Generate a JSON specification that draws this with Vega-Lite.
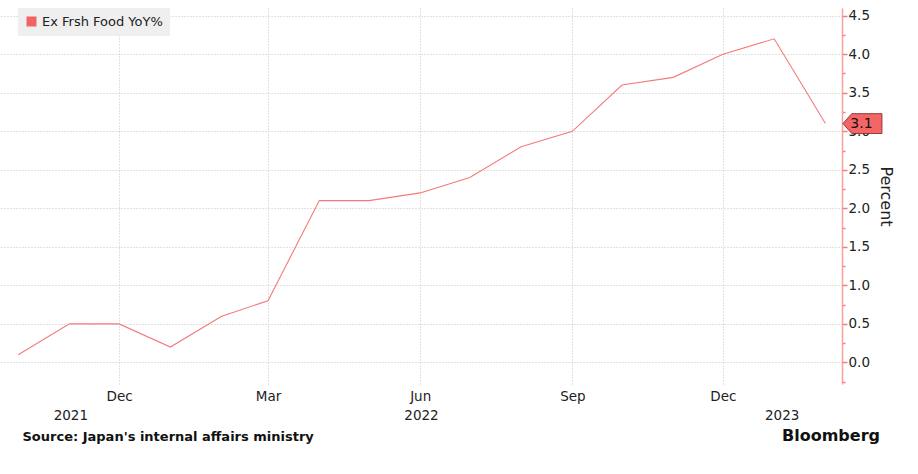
{
  "$schema": "https://vega.github.io/schema/vega-lite/v6.json",
  "width": 842,
  "height": 376,
  "autosize": {"type": "none"},
  "padding": {"left": 0, "top": 8, "right": 76, "bottom": 90},
  "background": "white",
  "config": {"view": {"stroke": null}, "font": "DejaVu Sans"},
  "title": {
    "text": "Bloomberg",
    "orient": "bottom",
    "anchor": "end",
    "frame": "group",
    "font": "DejaVu Sans",
    "fontSize": 16,
    "fontWeight": "bold",
    "color": "#111",
    "dx": 38,
    "dy": -19
  },
  "data": {
    "values": [
      {"date": "2021-10-01", "value": 0.1, "series": "Ex Frsh Food YoY%"},
      {"date": "2021-11-01", "value": 0.5, "series": "Ex Frsh Food YoY%"},
      {"date": "2021-12-01", "value": 0.5, "series": "Ex Frsh Food YoY%"},
      {"date": "2022-01-01", "value": 0.2, "series": "Ex Frsh Food YoY%"},
      {"date": "2022-02-01", "value": 0.6, "series": "Ex Frsh Food YoY%"},
      {"date": "2022-03-01", "value": 0.8, "series": "Ex Frsh Food YoY%"},
      {"date": "2022-04-01", "value": 2.1, "series": "Ex Frsh Food YoY%"},
      {"date": "2022-05-01", "value": 2.1, "series": "Ex Frsh Food YoY%"},
      {"date": "2022-06-01", "value": 2.2, "series": "Ex Frsh Food YoY%"},
      {"date": "2022-07-01", "value": 2.4, "series": "Ex Frsh Food YoY%"},
      {"date": "2022-08-01", "value": 2.8, "series": "Ex Frsh Food YoY%"},
      {"date": "2022-09-01", "value": 3.0, "series": "Ex Frsh Food YoY%"},
      {"date": "2022-10-01", "value": 3.6, "series": "Ex Frsh Food YoY%"},
      {"date": "2022-11-01", "value": 3.7, "series": "Ex Frsh Food YoY%"},
      {"date": "2022-12-01", "value": 4.0, "series": "Ex Frsh Food YoY%"},
      {"date": "2023-01-01", "value": 4.2, "series": "Ex Frsh Food YoY%"},
      {"date": "2023-02-01", "value": 3.1, "series": "Ex Frsh Food YoY%"}
    ]
  },
  "encoding": {
    "x": {
      "field": "date",
      "type": "temporal",
      "scale": {
        "type": "utc",
        "domain": [
          {"year": 2021, "month": 9, "date": 20, "utc": true},
          {"year": 2023, "month": 2, "date": 11, "utc": true}
        ]
      },
      "axis": {
        "title": "Source: Japan's internal affairs ministry",
        "titleX": 22,
        "titleY": 52,
        "titleAlign": "left",
        "titleBaseline": "middle",
        "titleFont": "DejaVu Sans",
        "titleFontSize": 13,
        "titleFontWeight": "bold",
        "titleColor": "#111",
        "values": [
          {"year": 2021, "month": 11, "date": 1, "hours": 12, "utc": true},
          {"year": 2021, "month": 12, "date": 1, "utc": true},
          {"year": 2022, "month": 3, "date": 1, "utc": true},
          {"year": 2022, "month": 6, "date": 1, "utc": true},
          {"year": 2022, "month": 6, "date": 1, "hours": 12, "utc": true},
          {"year": 2022, "month": 9, "date": 1, "utc": true},
          {"year": 2022, "month": 12, "date": 1, "utc": true},
          {"year": 2023, "month": 1, "date": 5, "hours": 12, "utc": true}
        ],
        "labelExpr": "utchours(datum.value) == 12 ? ['', utcFormat(datum.value, '%Y')] : utcFormat(datum.value, '%b')",
        "labelLineHeight": 19,
        "labelPadding": 5,
        "labelFontSize": 13.5,
        "labelColor": "#222",
        "labelOverlap": false,
        "labelFlush": false,
        "tickSize": 0,
        "domain": false,
        "grid": true,
        "gridDash": [1, 2],
        "gridColor": "#c4c4c4",
        "gridOpacity": {"condition": {"test": "utchours(datum.value) == 12", "value": 0}, "value": 1}
      }
    },
    "y": {
      "field": "value",
      "type": "quantitative",
      "scale": {"domain": [-0.28, 4.6], "nice": false, "zero": false},
      "axis": {
        "orient": "right",
        "title": "Percent",
        "titleFontSize": 16,
        "titleFontWeight": "normal",
        "titleColor": "#222",
        "titlePadding": 8,
        "values": [-0.25, 0, 0.25, 0.5, 0.75, 1, 1.25, 1.5, 1.75, 2, 2.25, 2.5, 2.75, 3, 3.25, 3.5, 3.75, 4, 4.25, 4.5],
        "labelExpr": "datum.value * 2 == round(datum.value * 2) && datum.value >= 0 ? format(datum.value, '.1f') : ''",
        "labelFontSize": 13.5,
        "labelColor": "#222",
        "labelPadding": 1,
        "labelOverlap": false,
        "labelFlush": false,
        "domainColor": "#f7a0a0",
        "domainWidth": 1.5,
        "tickColor": "#f47c7c",
        "tickWidth": 1.5,
        "tickSize": {"condition": {"test": "datum.value * 2 == round(datum.value * 2)", "value": 5}, "value": 3},
        "grid": true,
        "gridDash": [1, 2],
        "gridColor": "#c4c4c4",
        "gridOpacity": {"condition": {"test": "datum.value * 2 == round(datum.value * 2) && datum.value >= 0", "value": 1}, "value": 0}
      }
    }
  },
  "layer": [
    {
      "mark": {"type": "line", "strokeWidth": 1.1, "interpolate": "linear"},
      "encoding": {
        "color": {
          "field": "series",
          "type": "nominal",
          "scale": {"domain": ["Ex Frsh Food YoY%"], "range": ["#f47a7a"]},
          "legend": {
            "title": null,
            "orient": "none",
            "legendX": 18,
            "legendY": 0,
            "fillColor": "#efefef",
            "padding": 7,
            "symbolType": "square",
            "symbolSize": 100,
            "symbolFillColor": "#f26464",
            "symbolStrokeColor": "#f26464",
            "symbolStrokeWidth": 0,
            "labelFontSize": 13,
            "labelColor": "#222",
            "labelFont": "DejaVu Sans"
          }
        }
      }
    },
    {
      "transform": [{"filter": "utcyear(datum.date) == 2023 && utcmonth(datum.date) == 1"}],
      "mark": {
        "type": "point",
        "shape": "M -1 0 L -0.55 -0.51 L 1 -0.51 L 1 0.51 L -0.55 0.51 Z",
        "size": 1521,
        "filled": true,
        "fill": "#f46666",
        "stroke": "#7a1e1e",
        "strokeWidth": 0.8,
        "opacity": 1,
        "xOffset": 37
      }
    },
    {
      "transform": [{"filter": "utcyear(datum.date) == 2023 && utcmonth(datum.date) == 1"}],
      "mark": {
        "type": "text",
        "dx": 36,
        "align": "center",
        "baseline": "middle",
        "fontSize": 14,
        "color": "#111",
        "font": "DejaVu Sans"
      },
      "encoding": {"text": {"field": "value", "type": "quantitative", "format": ".1f"}}
    }
  ]
}
